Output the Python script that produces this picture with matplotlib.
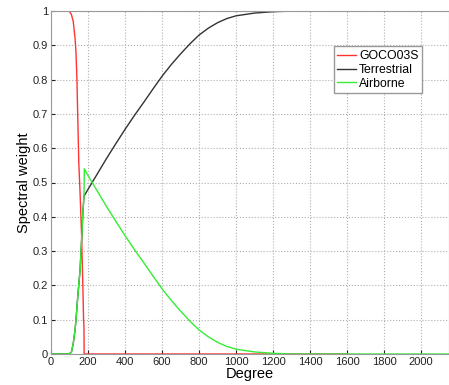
import numpy as np
import matplotlib
matplotlib.use('Agg')
import matplotlib.pyplot as plt
from matplotlib.ticker import FuncFormatter

plt.rcParams['font.family'] = ['Liberation Sans', 'DejaVu Sans']

# GOCO03S (satellite) weights
deg_goco = [0, 90, 100, 110, 120, 130, 135, 140, 145, 150, 157, 165, 172, 176, 178, 179, 400, 800, 1200, 1600]
w_goco = [1, 1, 0.998, 0.99, 0.97, 0.92, 0.88, 0.8, 0.68, 0.56, 0.47, 0.35, 0.2, 0.1, 0.08, 0, 0, 0, 0, 0]

# terrestrial weights
deg_terr = [0, 90, 100, 110, 120, 130, 135, 145, 157, 165, 172, 178, 200, 250, 300, 350, 400, 450, 500,
            550, 600, 650, 700, 750, 800, 850, 900, 950, 1000, 1100, 1200, 1320]
w_terr = [0, 0, 0.001, 0.005, 0.03, 0.07, 0.1, 0.17, 0.245, 0.33, 0.41, 0.46, 0.48, 0.525, 0.57, 0.613,
          0.655, 0.695, 0.733, 0.772, 0.81, 0.844, 0.875, 0.904, 0.93, 0.95, 0.966, 0.978, 0.986,
          0.994, 0.998, 1.0]

# airborne weights
deg_air = [0, 90, 100, 110, 120, 130, 135, 145, 157, 165, 172, 178, 180, 200, 250, 300, 350, 400, 450,
           500, 550, 600, 650, 700, 750, 800, 850, 900, 950, 1000, 1100, 1200, 1300, 2150]
w_air = [0, 0, 0.001, 0.005, 0.03, 0.07, 0.1, 0.17, 0.245, 0.33, 0.41, 0.46, 0.54, 0.52, 0.475, 0.43,
         0.387, 0.345, 0.305, 0.267, 0.228, 0.19, 0.156, 0.125, 0.096, 0.07, 0.05, 0.034, 0.022,
         0.014, 0.006, 0.002, 0.0, 0.0]

fig = plt.figure(figsize=(4.49, 3.85), dpi=100)
ax = fig.add_axes([51 / 449, 31 / 385, 398 / 449, 343 / 385])

ax.plot(deg_goco, w_goco, color='#ff3333', lw=1.0, label='GOCO03S')
ax.plot(deg_terr, w_terr, color='#333333', lw=1.0, label='Terrestrial')
ax.plot(deg_air, w_air, color='#33ee33', lw=1.0, label='Airborne')

ax.set_xlim(0, 2150)
ax.set_ylim(0, 1)
ax.set_xticks(np.arange(0, 2001, 200))
ax.set_yticks(np.arange(0, 1.01, 0.1))
ax.yaxis.set_major_formatter(FuncFormatter(lambda v, p: ('%.1f' % v).rstrip('0').rstrip('.') if v else '0'))
ax.tick_params(direction='in', labelsize=8, colors='#222222', length=3, pad=2)
ax.grid(True, color='#b0b0b0', linestyle=':', linewidth=0.8)
for s in ax.spines.values():
    s.set_color('#999999')

ax.set_xlabel('Degree', fontsize=10.5, labelpad=0)
ax.set_ylabel('Spectral weight', fontsize=10.5, labelpad=1)

ax.legend(loc='upper left', bbox_to_anchor=(0.71, 0.897), fontsize=8.8, fancybox=False,
          edgecolor='#999999', framealpha=1, handlelength=1.5, borderpad=0.3, labelspacing=0.15,
          handletextpad=0.3, borderaxespad=0)

fig.savefig('out.png', dpi=100)
